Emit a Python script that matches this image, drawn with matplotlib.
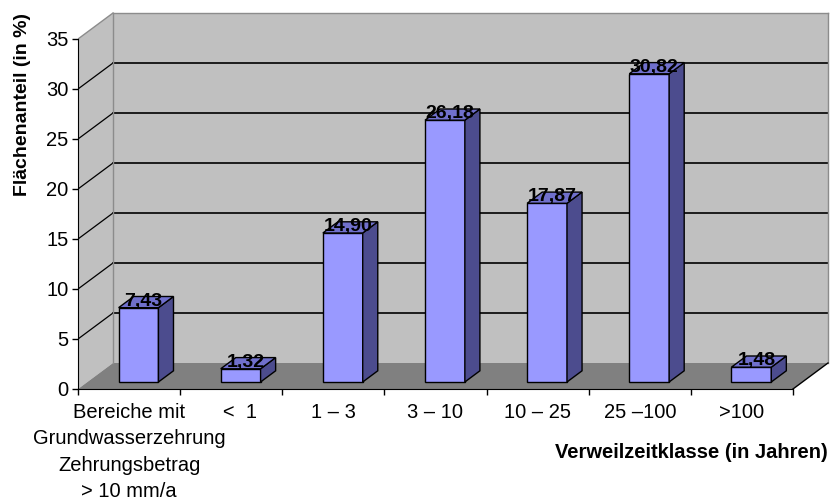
import matplotlib
matplotlib.use('Agg')
import matplotlib.pyplot as plt
from matplotlib.patches import Polygon, Rectangle

plt.rcParams['font.family'] = ['Liberation Sans', 'DejaVu Sans']

# Data
categories = ['Bereiche mit\nGrundwasserzehrung\nZehrungsbetrag\n> 10 mm/a',
              '   <  1', '1 – 3', '3 – 10', '10 – 25', '25 –100', '>100']
values = [7.43, 1.32, 14.90, 26.18, 17.87, 30.82, 1.48]
yticks = [0, 5, 10, 15, 20, 25, 30, 35]

# 3D look (oblique projection in data units)
DX, DY = 0.3427, 2.6        # depth of the plot box
F0, F1 = 0.27, 0.70         # bar position inside the depth
BAR_W = 0.39
YMAX = yticks[-1]
n = len(values)

fig = plt.figure(figsize=(8.3, 5.04), dpi=100)
ax = fig.add_axes([78 / 830, (504 - 389) / 504, 752 / 830, 379 / 504])
ax.set_xlim(0, 752 / 102.14)
ax.set_ylim(0, 37.9)
ax.patch.set_visible(False)

# Walls and floor
ax.add_patch(Polygon([(0, 0), (0, YMAX), (DX, YMAX + DY), (DX, DY)],
                     facecolor='#C0C0C0', edgecolor='none', zorder=0))
ax.add_patch(Rectangle((DX, DY), n, YMAX, facecolor='#C0C0C0',
                       edgecolor='none', zorder=0))
ax.add_patch(Polygon([(0, 0), (n, 0), (n + DX, DY), (DX, DY)],
                     facecolor='#808080', edgecolor='none', zorder=0.5))

# Gridlines on back and side wall
for v in yticks[1:-1]:
    ax.plot([DX, n + DX], [v + DY, v + DY], color='black', lw=1.2, zorder=1)
    ax.plot([0, DX], [v, v + DY], color='black', lw=0.9, zorder=1)

# Wall edges
edge = dict(color='#8c8c8c', lw=1, zorder=1)
ax.plot([0, DX], [YMAX, YMAX + DY], **edge)
ax.plot([DX, n + DX], [YMAX + DY, YMAX + DY], **edge)
ax.plot([DX, DX], [DY, YMAX + DY], **edge)
ax.plot([n + DX, n + DX], [DY, YMAX + DY], **edge)
ax.plot([n, n + DX], [0, DY], color='black', lw=1, zorder=1)

# Bars: front face, side and top
d = F1 - F0
base = F0 * DY
for i, v in enumerate(values):
    xl = i + 0.5 - BAR_W / 2 + F0 * DX
    xr = xl + BAR_W
    ax.bar(xl, v, width=BAR_W, bottom=base, align='edge', color='#9999FF',
           edgecolor='black', linewidth=1, zorder=3)
    ax.add_patch(Polygon([(xr, base), (xr, base + v),
                          (xr + d * DX, base + v + d * DY),
                          (xr + d * DX, base + d * DY)],
                         facecolor='#4C4C8E', edgecolor='black', lw=1, zorder=3))
    ax.add_patch(Polygon([(xl, base + v), (xr, base + v),
                          (xr + d * DX, base + v + d * DY),
                          (xl + d * DX, base + v + d * DY)],
                         facecolor='#7070CC', edgecolor='black', lw=1, zorder=3))
    ax.text(xl + BAR_W / 2 + 0.05, base + v + 0.2, f'{v:.2f}'.replace('.', ','),
            ha='center', va='baseline', fontsize=14, fontweight='bold', zorder=5)

# Axes
for s in ['top', 'right']:
    ax.spines[s].set_visible(False)
ax.spines['left'].set_bounds(0, YMAX)
ax.spines['bottom'].set_bounds(0, n)
ax.spines['left'].set_zorder(4)
ax.spines['bottom'].set_zorder(4)

ax.set_yticks(yticks)
ax.tick_params(axis='y', length=4, width=1, pad=3, labelsize=14.5)
ax.set_xticks(range(n + 1))
ax.set_xticklabels([])
ax.set_xticks([i + 0.5 for i in range(n)], minor=True)
ax.set_xticklabels(categories, minor=True, fontsize=14.5, linespacing=1.5)
ax.tick_params(axis='x', which='major', length=4, width=1)
ax.tick_params(axis='x', which='minor', length=0, pad=10)

fig.text(23 / 830, 1 - 105 / 504, 'Flächenanteil (in %)', rotation=90,
         ha='center', va='center', fontsize=14, fontweight='bold')
fig.text(828 / 830, 1 - 453 / 504, 'Verweilzeitklasse (in Jahren)',
         ha='right', va='center', fontsize=14.5, fontweight='bold')

plt.savefig('out.png', dpi=100)
